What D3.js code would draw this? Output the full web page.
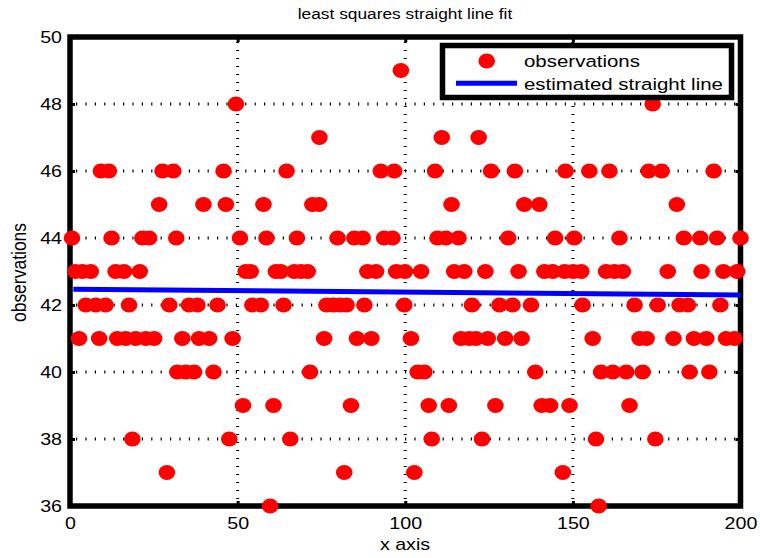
<!DOCTYPE html>
<html><head><meta charset="utf-8">
<script src="https://cdn.jsdelivr.net/npm/d3@7"></script>
<style>
body{margin:0;background:#fff}
svg{display:block}
text{font-family:"Liberation Sans",Arial,Helvetica,sans-serif;fill:#000}
</style>
</head><body>
<svg id="c" width="760" height="558"></svg>
<script>
const titleText = "least squares straight line fit";
const xLabelText = "x axis";
const yLabelText = "observations";
const legendLabels = ["observations", "estimated straight line"];
const xTicks = [0, 50, 100, 150, 200];
const yTicks = [36, 38, 40, 42, 44, 46, 48, 50];
const xDomain = [0, 200];
const yDomain = [36, 50];

// observations (x, y)
const obsX = [
  98.7,
  49.5, 173.8,
  74.4, 110.9, 121.9,
  9.2, 11.6, 27.6, 30.8, 45.8, 64.6, 92.7, 96.7, 108.9, 125.6,
  132.7, 147.8, 154.9, 160.9, 172.6, 176.5, 192,
  26.6, 39.8, 46.5, 57.7, 72.3, 74.3, 113.8, 135.5, 140, 181,
  0.6, 12.4, 21.6, 23.6, 31.7, 50.7, 58.6, 67.7, 79.8, 84.8,
  87.3, 93.7, 96.2, 109.6, 112.1, 115.9, 130.7, 144.7, 150.4, 163.9,
  183.1, 188, 193, 200,
  1.6, 3.7, 6.2, 13.6, 16.1, 20.8, 52.4, 53.9, 61.4, 62.9,
  66.9, 68.9, 70.9, 88.7, 91.3, 97.3, 99.9, 104.7, 114.6, 117.6,
  123.9, 133.8, 141.5, 144, 147.5, 150.1, 152.5, 159.9, 162.4, 164.9,
  178.3, 188.4, 194.9, 199,
  4.7, 7.7, 10.6, 17.6, 29.6, 35.5, 38, 44, 54.4, 56.9,
  63.7, 76.5, 78.5, 80.5, 82.5, 87.8, 99.7, 119.9, 128.1, 132,
  137.5, 152.9, 168.4, 175.3, 181.8, 184.3, 194,
  2.7, 8.7, 14.1, 16.6, 19.6, 22.6, 25.1, 33.5, 38.5, 41.5,
  48.5, 75.8, 85.6, 89.9, 101.7, 116.6, 119.1, 121.1, 124.6, 129.8,
  134.7, 155.9, 169.9, 172, 180, 186.1, 189.8, 195.7, 198.2,
  32, 34.5, 37, 42.8, 71.6, 103.7, 105.7, 138.8, 158.4, 161.9,
  165.9, 170.8, 184.8, 190.7,
  51.6, 60.7, 83.8, 107, 113, 126.9, 140.7, 143.2, 149, 166.9,
  18.6, 47.5, 65.7, 107.9, 122.9, 156.9, 174.6,
  28.9, 81.8, 102.7, 147,
  59.7, 157.7
];
const obsY = [
  49,
  48, 48,
  47, 47, 47,
  46, 46, 46, 46, 46, 46, 46, 46, 46, 46,
  46, 46, 46, 46, 46, 46, 46,
  45, 45, 45, 45, 45, 45, 45, 45, 45, 45,
  44, 44, 44, 44, 44, 44, 44, 44, 44, 44,
  44, 44, 44, 44, 44, 44, 44, 44, 44, 44,
  44, 44, 44, 44,
  43, 43, 43, 43, 43, 43, 43, 43, 43, 43,
  43, 43, 43, 43, 43, 43, 43, 43, 43, 43,
  43, 43, 43, 43, 43, 43, 43, 43, 43, 43,
  43, 43, 43, 43,
  42, 42, 42, 42, 42, 42, 42, 42, 42, 42,
  42, 42, 42, 42, 42, 42, 42, 42, 42, 42,
  42, 42, 42, 42, 42, 42, 42,
  41, 41, 41, 41, 41, 41, 41, 41, 41, 41,
  41, 41, 41, 41, 41, 41, 41, 41, 41, 41,
  41, 41, 41, 41, 41, 41, 41, 41, 41,
  40, 40, 40, 40, 40, 40, 40, 40, 40, 40,
  40, 40, 40, 40,
  39, 39, 39, 39, 39, 39, 39, 39, 39, 39,
  38, 38, 38, 38, 38, 38, 38,
  37, 37, 37, 37,
  36, 36
];
// estimated straight line (end points)
const fitX = [1, 200];
const fitY = [42.47, 42.30];

const svg = d3.select("#c");
const L = 70, R = 740.5, T = 37, B = 506;
const SX = 1.17;
const x = d3.scaleLinear().domain(xDomain).range([L, R]);
const y = d3.scaleLinear().domain(yDomain).range([B, T]);

// grid (dotted)
const grid = svg.append("g");
grid.selectAll("line.hg").data(yTicks.filter(v => v > yDomain[0] && v < yDomain[1])).join("line")
  .attr("class", "hg")
  .attr("x1", L + 6).attr("x2", R - 3)
  .attr("y1", d => y(d)).attr("y2", d => y(d))
  .attr("stroke", "#000").attr("stroke-width", 3).attr("stroke-dasharray", "1.2,8.2");
grid.selectAll("line.vg").data(xTicks.filter(v => v > xDomain[0] && v < xDomain[1])).join("line")
  .attr("class", "vg")
  .attr("x1", d => x(d)).attr("x2", d => x(d))
  .attr("y1", T + 5).attr("y2", B - 3)
  .attr("stroke", "#000").attr("stroke-width", 3).attr("stroke-dasharray", "1,7");

// axes
function styleAxis(g) {
  g.select(".domain").remove();
  g.selectAll(".tick line").attr("stroke", "#000").attr("stroke-width", 3);
}
const yAxis = svg.append("g").attr("transform", `translate(${L},0)`)
  .call(d3.axisLeft(y).tickValues(yTicks).tickSize(-5).tickFormat(d3.format("d")));
styleAxis(yAxis);
yAxis.selectAll(".tick text")
  .attr("x", null).attr("dy", "0.33em")
  .attr("transform", `translate(-8,0) scale(${SX},1)`)
  .attr("text-anchor", "end")
  .style("font-size", "16.8px").style("font-family", '"Liberation Sans",Arial,sans-serif');

const yAxisR = svg.append("g").attr("transform", `translate(${R},0)`)
  .call(d3.axisRight(y).tickValues(yTicks).tickSize(-5).tickFormat(""));
styleAxis(yAxisR);

const xAxisT = svg.append("g").attr("transform", `translate(0,${T})`)
  .call(d3.axisTop(x).tickValues(xTicks).tickSize(-5).tickFormat(""));
styleAxis(xAxisT);

const xAxis = svg.append("g").attr("transform", `translate(0,${B})`)
  .call(d3.axisBottom(x).tickValues(xTicks).tickSize(-5).tickFormat(d3.format("d")));
styleAxis(xAxis);
xAxis.selectAll(".tick text")
  .attr("y", null).attr("dy", null)
  .attr("transform", `translate(0,23) scale(${SX},1)`)
  .attr("text-anchor", "middle")
  .style("font-size", "16.8px").style("font-family", '"Liberation Sans",Arial,sans-serif');

// box
svg.append("rect").attr("x", L).attr("y", T).attr("width", R - L).attr("height", B - T)
  .attr("fill", "none").attr("stroke", "#000").attr("stroke-width", 5.5);

// observations
const pts = obsX.map((v, i) => ({x: v, y: obsY[i]}));
svg.append("g").selectAll("ellipse").data(pts).join("ellipse")
  .attr("cx", d => x(d.x)).attr("cy", d => y(d.y))
  .attr("rx", 8.3).attr("ry", 7.5).attr("fill", "#ff0000");

// fitted line
const fitPts = fitX.map((v, i) => [v, fitY[i]]);
svg.append("path").datum(fitPts)
  .attr("d", d3.line().x(d => x(d[0])).y(d => y(d[1])))
  .attr("fill", "none").attr("stroke", "#0000ff").attr("stroke-width", 5);

// title and labels
svg.append("text").text(titleText)
  .attr("transform", `translate(405,19) scale(${SX},1)`)
  .attr("text-anchor", "middle").style("font-size", "14.8px");
svg.append("text").text(xLabelText)
  .attr("transform", `translate(405,550) scale(${SX},1)`)
  .attr("text-anchor", "middle").style("font-size", "16.8px");
svg.append("text").text(yLabelText)
  .attr("transform", `translate(26,272.5) rotate(-90) scale(1,1.2)`)
  .attr("text-anchor", "middle").style("font-size", "17.5px");

// legend
const lg = svg.append("g");
lg.append("rect").attr("x", 442.5).attr("y", 45.5).attr("width", 289).attr("height", 52)
  .attr("fill", "#fff").attr("stroke", "#000").attr("stroke-width", 5.5);
lg.append("ellipse").attr("cx", 486.7).attr("cy", 61).attr("rx", 8.3).attr("ry", 7.5).attr("fill", "#ff0000");
lg.append("line").attr("x1", 456).attr("x2", 517).attr("y1", 83.3).attr("y2", 83.3)
  .attr("stroke", "#0000ff").attr("stroke-width", 5);
lg.selectAll("text").data(legendLabels).join("text")
  .text(d => d)
  .attr("transform", (d, i) => `translate(524,${[67, 89.5][i]}) scale(1.19,1)`)
  .style("font-size", "17.2px");
</script>
</body></html>
